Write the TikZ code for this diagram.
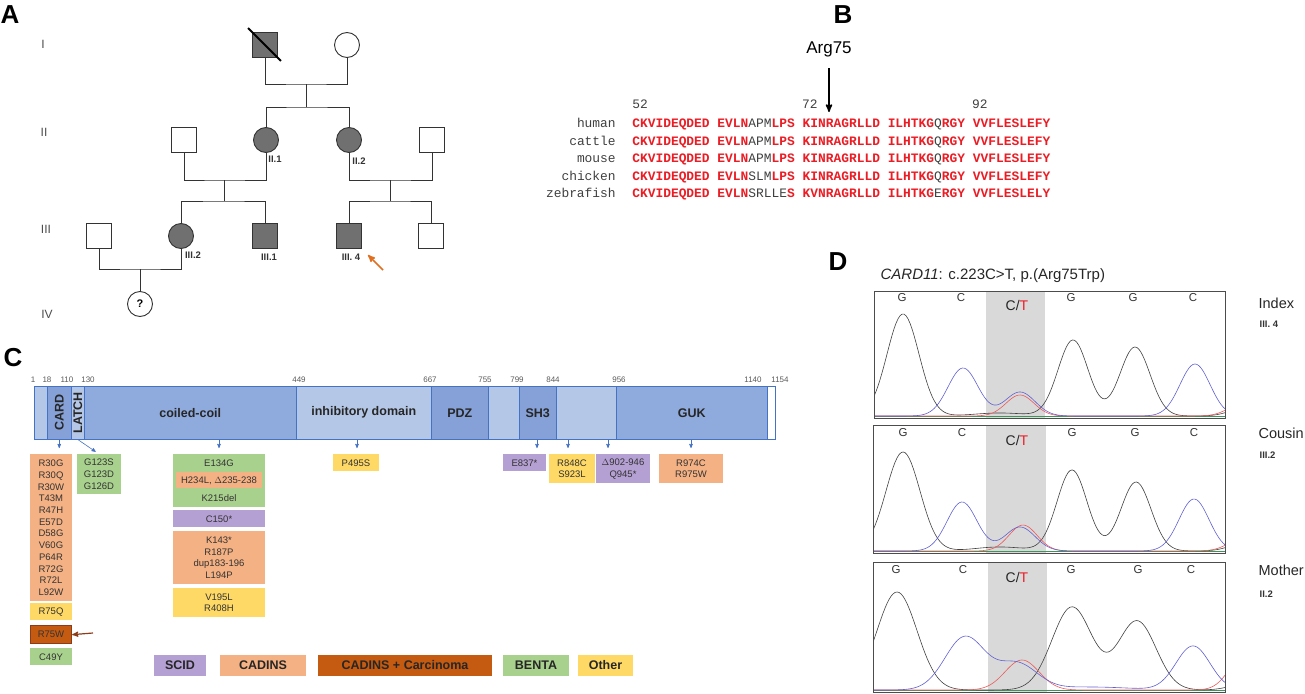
\documentclass[tikz,border=0pt]{standalone}
\usepackage{fontspec}
\setmainfont{Liberation Sans}
\setmonofont{Liberation Mono}
\usetikzlibrary{arrows,calc,positioning}

\definecolor{pedfill}{RGB}{112,112,112}
\definecolor{seqred}{RGB}{236,28,36}
\definecolor{dlight}{RGB}{180,199,231}
\definecolor{dmid}{RGB}{143,170,220}
\definecolor{ddark}{RGB}{133,161,215}
\definecolor{dedge}{RGB}{68,114,196}
\definecolor{scid}{RGB}{181,160,211}
\definecolor{cadins}{RGB}{244,177,131}
\definecolor{carc}{RGB}{197,90,17}
\definecolor{benta}{RGB}{169,209,142}
\definecolor{other}{RGB}{255,217,102}
\definecolor{brownarr}{RGB}{140,60,25}
\definecolor{proband}{RGB}{224,112,32}
\definecolor{trblue}{RGB}{96,96,210}
\definecolor{trred}{RGB}{240,90,90}
\definecolor{trgreen}{RGB}{60,150,90}
\definecolor{band}{RGB}{217,217,217}

\newcommand\setfs[1]{\fontsize{#1}{#1}\selectfont}
\newcommand\redres[1]{{\color{seqred}\bfseries#1}}

\tikzset{
  lbl/.style={font=\setfs{26}\bfseries},
  gen/.style={font=\setfs{12}, text=black!70},
  ped/.style={line width=0.9pt, draw=black!80},
  male/.style={draw=black!80, line width=0.9pt, rectangle, minimum size=25pt, inner sep=0pt},
  female/.style={draw=black!80, line width=0.9pt, circle, minimum size=25pt, inner sep=0pt},
  aff/.style={fill=pedfill},
  pid/.style={font=\setfs{9.5}\bfseries, text=black!80},
  seq/.style={font=\ttfamily\setfs{12.9}, text=black!75, inner sep=0pt},
  seg/.style={draw=dedge, line width=0.5pt, minimum height=53pt, inner sep=0pt},
  dlab/.style={font=\setfs{12.5}\bfseries, text=black!85},
  num/.style={font=\setfs{8}, text=black!65},
  mut/.style={inner sep=0pt, align=center, font=\fontsize{9.5}{11.7}\selectfont, text=black!80},
  mutarr/.style={->, draw=dedge, line width=0.6pt, shorten >=6pt},
  leg/.style={minimum height=21pt, inner sep=0pt, font=\setfs{12.5}\bfseries, text=black!85},
  frame/.style={draw=black!70, line width=0.8pt, inner sep=0pt},
  base/.style={font=\setfs{11.5}, text=black!80},
  ct/.style={font=\setfs{14}, text=black!85},
  who/.style={anchor=west, font=\setfs{14.5}, text=black!85},
  trk/.style={black!75, line width=0.6pt},
  trb/.style={trblue, line width=0.6pt},
  trr/.style={trred, line width=0.6pt},
}

\begin{document}
\begin{tikzpicture}[x=1pt, y=-1pt, >=stealth', semithick,
  declare function={pk(\x,\m,\h,\s)=\h*exp(max(-9,-0.5*((\x-\m)/\s)^2));}]
\useasboundingbox (0,0) rectangle (1305,693);

% ---------- A: pedigree
\node[lbl] at (10,15) {A};
\node[gen] (gI)   at (43,44)  {I};
\node[gen] (gII)  at (44,132) {II};
\node[gen] (gIII) at (46,229) {III};
\node[gen] (gIV)  at (47,314) {IV};

\node[male, aff] (i1) at (265,45) {};
\node[female]    (i2) at (347,45) {};
\draw[line width=1.8pt] ($(i1.north west)+(-4,-4)$) -- ($(i1.south east)+(3,3)$);
\coordinate (m1) at (306,84);
\coordinate (s1) at (306,107);
\draw[ped] (i1.south) |- (m1) -| (i2.south);
\draw[ped] (m1) -- (s1);

\node[male]         (ii0) at (184,140) {};
\node[female, aff]  (ii1) at (266,140) {};
\node[female, aff]  (ii2) at (349,140) {};
\node[male]         (ii3) at (432,140) {};
\draw[ped] (ii1.north) |- (s1) -| (ii2.north);
\coordinate (m2) at (224,180);
\coordinate (s2) at (224,201);
\draw[ped] (ii0.south) |- (m2) -| (ii1.south);
\draw[ped] (m2) -- (s2);
\coordinate (m3) at (390,180);
\coordinate (s3) at (390,201);
\draw[ped] (ii2.south) |- (m3) -| (ii3.south);
\draw[ped] (m3) -- (s3);

\node[male]        (iii0) at (99,236)  {};
\node[female, aff] (iii2) at (181,236) {};
\node[male, aff]   (iii1) at (265,236) {};
\node[male, aff]   (iii4) at (349,236) {};
\node[male]        (iii5) at (431,236) {};
\draw[ped] (iii2.north) |- (s2) -| (iii1.north);
\draw[ped] (iii4.north) |- (s3) -| (iii5.north);
\coordinate (m4) at (140,269);
\draw[ped] (iii0.south) |- (m4) -| (iii2.south);
\node[female, font=\setfs{11}\bfseries] (iv1) at (140,304) {?};
\draw[ped] (m4) -- (iv1.north);

\node[pid] (lii1)   at (275,159) {II.1};
\node[pid] (lii2)   at (359,161) {II.2};
\node[pid] (liii2)  at (193,255) {III.2};
\node[pid] (liii1)  at (269,257) {III.1};
\node[pid] (liii4)  at (351,257) {III. 4};
\coordinate (pb) at (383,270);
\draw[->, draw=proband, line width=1.5pt] (pb) -- ++(-15,-15);

% ---------- B: alignment
\node[lbl] at (843,15) {B};
\node[font=\setfs{17}] (arg) at (829,49) {Arg75};
\coordinate (r75) at (829,112);
\draw[->, line width=1.6pt, shorten <=8pt] (arg.south) -- (r75);

\node[seq, anchor=base west] (n52) at (632,108)   {52};
\node[seq, anchor=base west] (n72) at (801.8,108) {72};
\node[seq, anchor=base west] (n92) at (971.7,108) {92};

\node[seq, anchor=base east] (sp1) at (616,127.5) {human};
\node[seq, anchor=base east] (sp2) at (616,145)   {cattle};
\node[seq, anchor=base east] (sp3) at (616,162.5) {mouse};
\node[seq, anchor=base east] (sp4) at (616,180)   {chicken};
\node[seq, anchor=base east] (sp5) at (616,197.5) {zebrafish};
\node[seq, anchor=base west] (al1) at (632,127.5) {\redres{CKVIDEQDED EVLN}APM\redres{LPS KINRAGRLLD ILHTKG}Q\redres{RGY VVFLESLEFY}};
\node[seq, anchor=base west] (al2) at (632,145)   {\redres{CKVIDEQDED EVLN}APM\redres{LPS KINRAGRLLD ILHTKG}Q\redres{RGY VVFLESLEFY}};
\node[seq, anchor=base west] (al3) at (632,162.5) {\redres{CKVIDEQDED EVLN}APM\redres{LPS KINRAGRLLD ILHTKG}Q\redres{RGY VVFLESLEFY}};
\node[seq, anchor=base west] (al4) at (632,180)   {\redres{CKVIDEQDED EVLN}SLM\redres{LPS KINRAGRLLD ILHTKG}Q\redres{RGY VVFLESLEFY}};
\node[seq, anchor=base west] (al5) at (632,197.5) {\redres{CKVIDEQDED EVLN}SRLLE\redres{S KVNRAGRLLD ILHTKG}E\redres{RGY VVFLESLELY}};

% ---------- C: protein domains
\node[lbl] at (13,358) {C};
\foreach \a/\b/\c/\n in {34/47/dlight/sg0, 47/71/ddark/card, 71/84/dlight/latch,
    84/296/dmid/cc, 296/431/dlight/inh, 431/488/ddark/pdz, 488/519/dlight/sg1,
    519/556/ddark/sh3, 556/616/dlight/sg2, 616/767/dmid/guk, 767/775/white/tail}
  \node[seg, fill=\c, minimum width=\b-\a, anchor=north west] (\n) at (\a,386) {};
\draw[dedge, line width=0.8pt] (sg0.north west) rectangle (tail.south east);

\node[dlab, rotate=90] at (card)  {CARD};
\node[dlab, rotate=90] at (latch) {LATCH};
\node[dlab] at (cc)  {coiled-coil};
\node[dlab] at (inh) {inhibitory domain};
\node[dlab] at (pdz) {PDZ};
\node[dlab] at (sh3) {SH3};
\node[dlab] at (guk) {GUK};

\foreach \x/\t in {33/1, 47/18, 67/110, 88/130, 299/449, 430/667, 485/755,
    517/799, 553/844, 619/956, 753/1140, 780/1154}
  \node[num] at (\x,380) {\t};

% mutations
\node[mut, fill=cadins, minimum width=42pt, minimum height=147pt, anchor=north] (cardm) at (51,454)
  {R30G\\R30Q\\R30W\\T43M\\R47H\\E57D\\D58G\\V60G\\P64R\\R72G\\R72L\\L92W};
\node[mut, fill=other, minimum width=42pt, minimum height=17pt, anchor=north] (r75q) at (51,603) {R75Q};
\node[mut, fill=carc, draw=brownarr, line width=1.3pt, minimum width=41pt, minimum height=18pt, anchor=north] (r75w) at (51,625) {R75W};
\node[mut, fill=benta, minimum width=42pt, minimum height=17pt, anchor=north] (c49y) at (51,648) {C49Y};
\node[mut, fill=benta, minimum width=44pt, minimum height=40pt, anchor=north] (latchm) at (99,454) {G123S\\G123D\\G126D};

\node[mut, fill=benta, minimum width=92pt, minimum height=53pt, anchor=north] (ccm) at (219,454) {};
\node[mut] at (219,463) {E134G};
\node[mut, fill=cadins, minimum width=86pt, minimum height=16pt, anchor=north] (ccin) at (219,472) {H234L, $\Delta$235-238};
\node[mut] at (219,498) {K215del};
\node[mut, fill=scid, minimum width=92pt, minimum height=17pt, anchor=north] (c150) at (219,510) {C150*};
\node[mut, fill=cadins, minimum width=92pt, minimum height=53pt, anchor=north] (ccb) at (219,531) {K143*\\R187P\\dup183-196\\L194P};
\node[mut, fill=other, minimum width=92pt, minimum height=29pt, anchor=north] (ccc) at (219,588) {V195L\\R408H};

\node[mut, fill=other, minimum width=46pt, minimum height=17pt, anchor=north] (p495s) at (356,454) {P495S};
\node[mut, fill=scid, minimum width=43pt, minimum height=17pt, anchor=north] (e837) at (524.5,454) {E837*};
\node[mut, fill=other, minimum width=46pt, minimum height=29pt, anchor=north] (r848) at (572,454) {R848C\\S923L};
\node[mut, fill=scid, minimum width=54pt, minimum height=29pt, anchor=north] (d902) at (623,454) {$\Delta$902-946\\Q945*};
\node[mut, fill=cadins, minimum width=64pt, minimum height=29pt, anchor=north] (r974) at (691,454) {R974C\\R975W};

\draw[mutarr] (card.south) -- (card.south |- cardm.north);
\draw[mutarr, shorten >=4pt] (latch.south) -- (latchm.north);
\foreach \x/\b in {219/ccm, 357/p495s, 537/e837, 568/r848, 608/d902, 691/r974}
  \draw[mutarr] (\x,0 |- cc.south) -- (\x,0 |- \b.north);

\coordinate (r75p) at (93,633);
\draw[->, draw=brownarr, line width=1.2pt] (r75p) -- (r75w.east);

% legend
\node[leg, fill=scid,   minimum width=52pt]  (lg1) at (180,665.5)   {SCID};
\node[leg, fill=cadins, minimum width=86pt]  (lg2) at (263,665.5)   {CADINS};
\node[leg, fill=carc,   minimum width=174pt] (lg3) at (405,665.5)   {CADINS + Carcinoma};
\node[leg, fill=benta,  minimum width=66pt]  (lg4) at (536,665.5)   {BENTA};
\node[leg, fill=other,  minimum width=55pt]  (lg5) at (605.5,665.5) {Other};

% ---------- D: chromatograms
\node[lbl] at (838,262) {D};
\node[anchor=west, font=\setfs{15}, text=black!85] (ttl) at (877,276) {\textit{CARD11}: c.223C>T, p.(Arg75Trp)};

% index
\node[frame, minimum width=351pt, minimum height=127pt, anchor=north west] (ch1) at (874,291) {};
\begin{scope}
  \clip (ch1.north west) rectangle (ch1.south east);
  \fill[band] (986,291) rectangle (1045,418);
  \draw[trgreen, line width=0.6pt] (874,416.5) -- (1225,416.5);
  \draw[trk] plot[domain=874:1225, samples=176] (\x,{416-pk(\x,903,102,16)-pk(\x,1073,76,15)-pk(\x,1135,69,15)-pk(\x,1000,3,25)-pk(\x,1245,8,15)});
  \draw[trr] plot[domain=874:1225, samples=176] (\x,{416-pk(\x,1020,21,14)-pk(\x,1245,14,15)});
  \draw[trb] plot[domain=874:1225, samples=176] (\x,{416-pk(\x,963,48,15)-pk(\x,1020,24,15)-pk(\x,1195,52,15)});
\end{scope}
\draw[frame] (ch1.north west) rectangle (ch1.south east);
\foreach \x/\b in {902/G, 961/C, 1071/G, 1133/G, 1193/C}
  \node[base] at (\x,298) {\b};
\node[ct] at (1017,305) {C/\textcolor{seqred}{T}};
\node[who] (w1) at (1255,303) {Index};
\node[pid, anchor=west] (w1id) at (1256,324) {III. 4};

% cousin
\node[frame, minimum width=352pt, minimum height=128pt, anchor=north west] (ch2) at (873,425) {};
\begin{scope}
  \clip (ch2.north west) rectangle (ch2.south east);
  \fill[band] (986,425) rectangle (1046,553);
  \draw[trgreen, line width=0.6pt] (873,551.5) -- (1225,551.5);
  \draw[trk] plot[domain=873:1225, samples=176] (\x,{551-pk(\x,903,99,17)-pk(\x,1072,81,15)-pk(\x,1136,69,15)-pk(\x,1000,4,25)-pk(\x,1245,8,15)});
  \draw[trr] plot[domain=873:1225, samples=176] (\x,{551-pk(\x,1023,26,14)-pk(\x,1245,14,15)});
  \draw[trb] plot[domain=873:1225, samples=176] (\x,{551-pk(\x,962,49,15)-pk(\x,1020,24,15)-pk(\x,1194,52,15)});
\end{scope}
\draw[frame] (ch2.north west) rectangle (ch2.south east);
\foreach \x/\b in {903/G, 962/C, 1072/G, 1135/G, 1194/C}
  \node[base] at (\x,433) {\b};
\node[ct] at (1017,440) {C/\textcolor{seqred}{T}};
\node[who] (w2) at (1255,433) {Cousin};
\node[pid, anchor=west] (w2id) at (1256,455) {III.2};

% mother
\node[frame, minimum width=352pt, minimum height=130pt, anchor=north west] (ch3) at (873,562) {};
\begin{scope}
  \clip (ch3.north west) rectangle (ch3.south east);
  \fill[band] (988,562) rectangle (1047,692);
  \draw[trgreen, line width=0.6pt] (873,690.5) -- (1225,690.5);
  \draw[trk] plot[domain=873:1225, samples=176] (\x,{690-pk(\x,897,98,20)-pk(\x,1072,83,20)-pk(\x,1137,69,19)-pk(\x,1245,6,15)});
  \draw[trr] plot[domain=873:1225, samples=176] (\x,{690-pk(\x,1022,30,17)-pk(\x,1245,36,15)});
  \draw[trb] plot[domain=873:1225, samples=176] (\x,{690-pk(\x,965,53,20)-pk(\x,1017,26,20)-pk(\x,1193,44,17)-pk(\x,1090,3,40)});
\end{scope}
\draw[frame] (ch3.north west) rectangle (ch3.south east);
\foreach \x/\b in {896/G, 963/C, 1071/G, 1138/G, 1191/C}
  \node[base] at (\x,570) {\b};
\node[ct] at (1017,577) {C/\textcolor{seqred}{T}};
\node[who] (w3) at (1255,570) {Mother};
\node[pid, anchor=west] (w3id) at (1256,594) {II.2};
\end{tikzpicture}
\end{document}
